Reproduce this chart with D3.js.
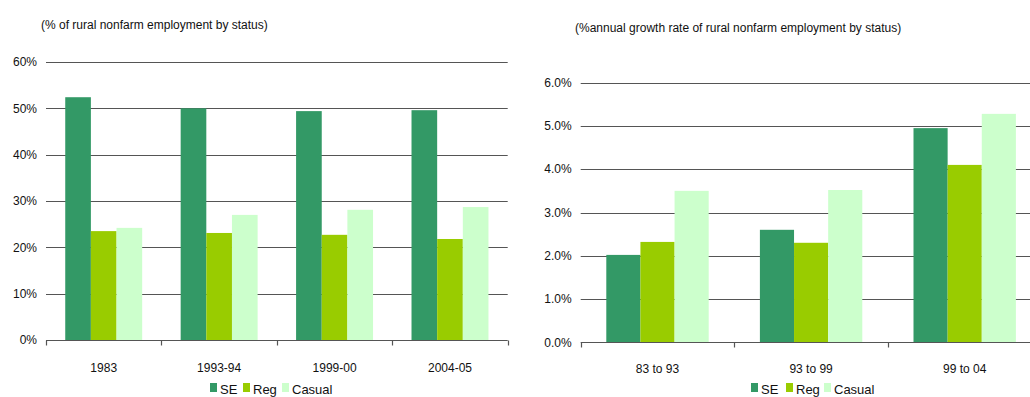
<!DOCTYPE html>
<html>
<head>
<meta charset="utf-8">
<script src="https://cdn.jsdelivr.net/npm/d3@7"></script>
<style>
  html, body { margin: 0; padding: 0; background: #fff; }
  svg { display: block; font-family: "Liberation Sans", Arial, sans-serif; }
</style>
</head>
<body>
<svg id="chart" width="1030" height="397"></svg>
<script>
// Series names and colours shared by both panels
const seriesNames = ["SE", "Reg", "Casual"];
const seriesColors = ["#339966", "#99CC00", "#CCFFCC"];

// Left panel: share of rural nonfarm employment by status (%)
const shareYears = ["1983", "1993-94", "1999-00", "2004-05"];
const shareSE = [52.4, 50.0, 49.4, 49.6];
const shareReg = [23.5, 23.1, 22.7, 21.8];
const shareCasual = [24.2, 27.0, 28.1, 28.7];
const shareTicks = [0, 10, 20, 30, 40, 50, 60];

// Right panel: annual growth rate of rural nonfarm employment by status (%)
const growthPeriods = ["83 to 93", "93 to 99", "99 to 04"];
const growthSE = [2.02, 2.60, 4.95];
const growthReg = [2.32, 2.30, 4.10];
const growthCasual = [3.50, 3.52, 5.28];
const growthTicks = [0, 1, 2, 3, 4, 5, 6];

const svg = d3.select("#chart");

function panel(opts) {
  const g = svg.append("g");
  const x = d3.scaleBand().domain(opts.categories).range([opts.x0, opts.x1]);
  const y = d3.scaleLinear().domain([0, opts.yMax]).range([opts.y0, opts.y1]);
  // three touching bars per group, with a 150% gap shared between the sides
  const inner = d3.scaleBand().domain(seriesNames)
    .range([0, x.bandwidth()]).paddingInner(0).paddingOuter(0.75);

  // title
  g.append("text")
    .attr("x", opts.titleX).attr("y", opts.titleY)
    .attr("font-size", 12).attr("fill", "#111")
    .text(opts.title);

  // gridlines
  g.append("g").selectAll("line").data(opts.ticks.filter(t => t > 0)).join("line")
    .attr("x1", opts.x0).attr("x2", opts.gridEnd)
    .attr("y1", d => Math.round(y(d)) + 0.5).attr("y2", d => Math.round(y(d)) + 0.5)
    .attr("stroke", "#555").attr("stroke-width", 1.2);

  // y tick labels
  g.append("g").selectAll("text").data(opts.ticks).join("text")
    .attr("x", opts.x0 - 9).attr("y", d => y(d))
    .attr("dy", "0.35em").attr("text-anchor", "end")
    .attr("font-size", 12).attr("fill", "#111")
    .text(opts.fmt);

  // bars
  const rows = opts.categories.map((c, i) => ({ c, vals: opts.series.map(s => s[i]) }));
  const grp = g.append("g").selectAll("g").data(rows).join("g")
    .attr("transform", d => `translate(${x(d.c)},0)`);
  grp.selectAll("rect").data(d => d.vals.map((v, k) => ({ v, k }))).join("rect")
    .attr("x", d => inner(seriesNames[d.k]))
    .attr("width", inner.bandwidth())
    .attr("y", d => y(d.v))
    .attr("height", d => y(0) - y(d.v))
    .attr("fill", d => seriesColors[d.k]);

  // x axis baseline with tick marks at band edges
  const axis = g.append("g").attr("transform", `translate(0,${Math.round(y(0)) + 0.5})`);
  axis.append("line").attr("x1", opts.x0).attr("x2", opts.gridEnd)
    .attr("stroke", "#555").attr("stroke-width", 1.2);
  const edges = opts.categories.map(c => x(c)).concat([opts.x1]).filter(v => v <= 1030);
  axis.selectAll("line.tick").data(edges).join("line").attr("class", "tick")
    .attr("x1", d => Math.round(d) + 0.5).attr("x2", d => Math.round(d) + 0.5)
    .attr("y1", 0).attr("y2", 5)
    .attr("stroke", "#555").attr("stroke-width", 1.2);
  axis.selectAll("text").data(opts.categories).join("text")
    .attr("x", d => x(d) + x.bandwidth() / 2).attr("y", opts.labelY - y(0))
    .attr("text-anchor", "middle").attr("font-size", 12).attr("fill", "#111")
    .text(d => d);

  // legend
  const leg = g.append("g").attr("transform", `translate(${opts.legendX},${opts.legendY})`);
  const offsets = opts.legendOffsets;
  seriesNames.forEach((name, k) => {
    leg.append("rect").attr("x", offsets[k]).attr("y", -6)
      .attr("width", 7).attr("height", 9).attr("fill", seriesColors[k]);
    leg.append("text").attr("x", offsets[k] + 10).attr("y", 0)
      .attr("dy", "0.35em").attr("font-size", 13).attr("fill", "#111")
      .text(name);
  });
}

panel({
  categories: shareYears,
  series: [shareSE, shareReg, shareCasual],
  yMax: 60, ticks: shareTicks,
  fmt: d => d + "%",
  x0: 46, x1: 507.7, gridEnd: 507.7,
  y0: 340, y1: 62,
  title: "(% of rural nonfarm employment by status)",
  titleX: 41, titleY: 29,
  labelY: 371,
  legendX: 210, legendY: 389,
  legendOffsets: [0, 33, 72]
});

panel({
  categories: growthPeriods,
  series: [growthSE, growthReg, growthCasual],
  yMax: 6, ticks: growthTicks,
  fmt: d => d.toFixed(1) + "%",
  x0: 580.7, x1: 1041.5, gridEnd: 1030,
  y0: 342.3, y1: 82.7,
  title: "(%annual growth rate of rural nonfarm employment by status)",
  titleX: 575, titleY: 32,
  labelY: 373,
  legendX: 751, legendY: 389,
  legendOffsets: [0, 35, 73]
});
</script>
</body>
</html>
